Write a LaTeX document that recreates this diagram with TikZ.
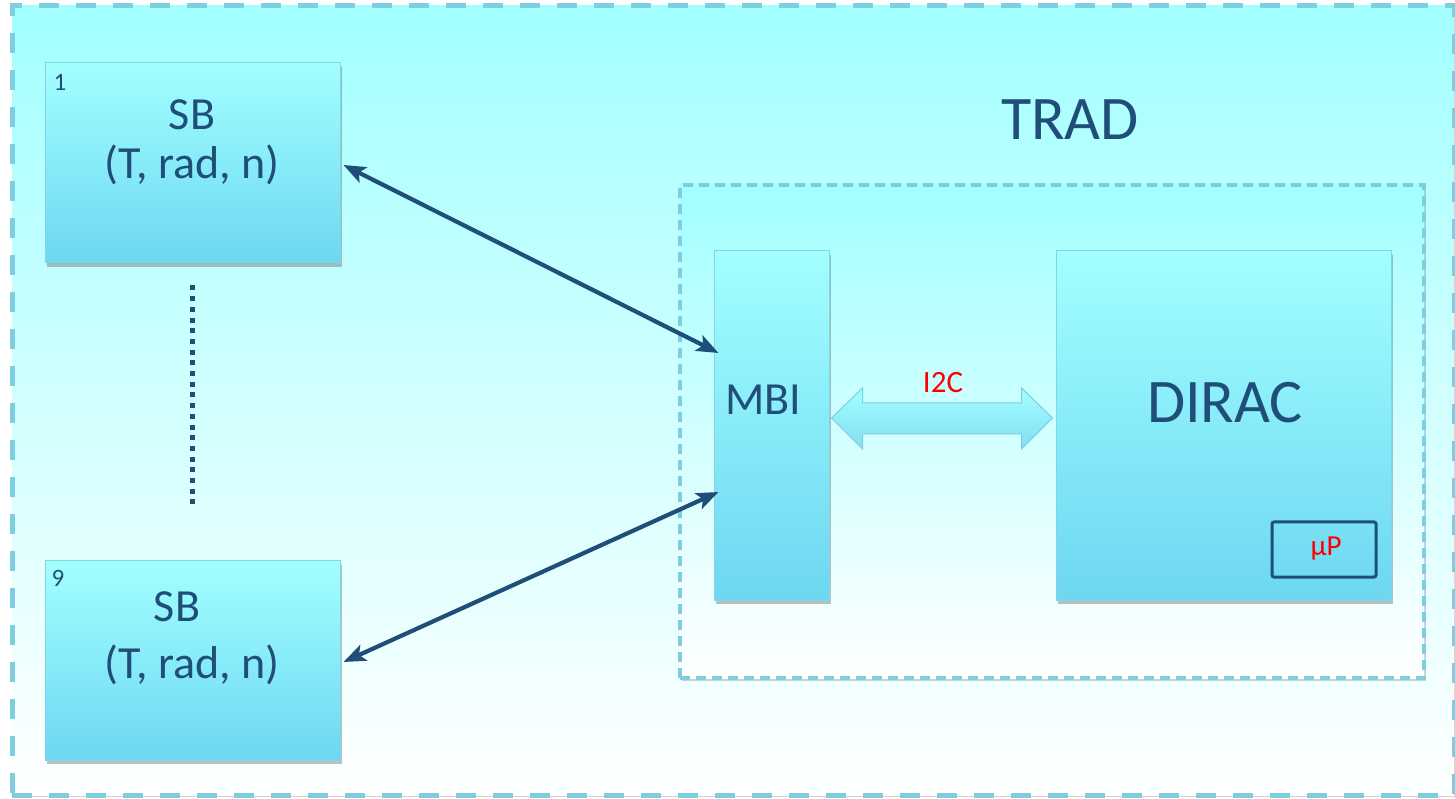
\documentclass[tikz,border=0pt]{standalone}
\usepackage{fontspec}
\setmainfont{Carlito}
\usetikzlibrary{arrows.meta,shadows,calc}
\definecolor{aqua}{HTML}{A2FFFF}
\definecolor{boxbot}{HTML}{6DD7F1}
\definecolor{boxedge}{HTML}{86D3E6}
\definecolor{dashc}{HTML}{7ECDE0}
\definecolor{navy}{HTML}{1F4E79}
\definecolor{redtxt}{HTML}{FF0000}
\begin{document}
\begin{tikzpicture}[x=1pt,y=1pt,
  blk/.style={draw=boxedge, line width=1pt, top color=aqua, bottom color=boxbot,
    drop shadow={shadow xshift=2pt,shadow yshift=-4pt,opacity=0.35,fill=black!70},
    inner sep=0pt},
  frame/.style={draw=dashc, top color=aqua, bottom color=white, inner sep=0pt},
  lbl/.style={text=navy, inner sep=0pt},
  big/.style={lbl, font=\fontsize{46}{50}\selectfont},
  huge/.style={lbl, font=\fontsize{62}{66}\selectfont},
  num/.style={lbl, font=\fontsize{25}{27}\selectfont},
  redlbl/.style={text=redtxt, inner sep=0pt, font=\fontsize{31}{34}\selectfont},
  link/.style={navy, line width=4.2pt,
    {Stealth[length=22pt,width=17pt,inset=5pt]}-{Stealth[length=22pt,width=17pt,inset=5pt]}},
  fatarrow/.style={draw=dashc, line width=1pt, top color=aqua, bottom color=boxbot!85!white, line join=miter},
]
\useasboundingbox (0,0) rectangle (1455,798);
\fill[white] (0,0) rectangle (1455,798);

% outer frame
\node[frame, line width=5pt, dash pattern=on 20pt off 17pt,
  drop shadow={shadow xshift=1.5pt,shadow yshift=-2pt,opacity=0.25,fill=black!70},
  minimum width=1442, minimum height=789] (outer) at (733,397.5) {};
\node[huge] (trad) at (1070,678) {TRAD};

% inner frame
\node[frame, line width=3.5pt, dash pattern=on 10pt off 6pt,
  drop shadow={shadow xshift=2pt,shadow yshift=-3pt,opacity=0.25,fill=black!70},
  minimum width=744, minimum height=493] (inner) at (1052,366.5) {};

% SB boxes
\node[blk, minimum width=295, minimum height=200] (sb1) at (192.5,635) {};
\node[num] (n1) at (60,716) {1};
\node[big] (sb1a) at (192,683) {SB};
\node[big] (sb1b) at (192,633) {(T, rad, n)};

\node[blk, minimum width=295, minimum height=199] (sb9) at (192.5,137.5) {};
\node[num] (n9) at (58,220) {9};
\node[big] (sb9a) at (177,191) {SB};
\node[big] (sb9b) at (192,133) {(T, rad, n)};

% dotted line
\draw[navy, line width=5pt, dash pattern=on 5pt off 5.7pt]
  ([yshift=-22pt]sb1.south) -- ([yshift=56pt]sb9.north);

% MBI and DIRAC
\node[blk, minimum width=115, minimum height=349] (mbi) at (771.5,372.5) {};
\node[big] (mbit) at (763,398) {MBI};
\node[blk, minimum width=335, minimum height=349] (dirac) at (1223.5,372.5) {};
\node[huge] (dirt) at (1225,395) {DIRAC};

% microprocessor
\node[draw=navy, line width=3pt, rounded corners=2pt, minimum width=104, minimum height=55,
  inner sep=0pt] (up) at (1324,248.5) {};
\node[redlbl, font=\fontsize{29}{32}\selectfont] (upt) at (1326,249) {µP};

% links
\draw[link] ([xshift=3pt,yshift=-2pt]sb1.east) -- ([xshift=5pt,yshift=72.5pt]mbi.west);
\draw[link] ([xshift=3pt,yshift=-1.5pt]sb9.east) -- ([xshift=5pt,yshift=-66.5pt]mbi.west);

% I2C fat double arrow
\coordinate (i2cL) at ([xshift=2pt,yshift=7.5pt]mbi.east);
\coordinate (i2cR) at ([xshift=-3pt,yshift=7.5pt]dirac.west);
\draw[fatarrow] (i2cL) -- ++(31,30) -- ++(0,-15) -- ($(i2cR)+(-31,15)$) -- ++(0,15)
  -- (i2cR) -- ++(-31,-31) -- ++(0,15) -- ($(i2cL)+(31,-16)$) -- ++(0,-15) -- cycle;
\node[redlbl] (i2c) at (943,415) {I2C};
\end{tikzpicture}
\end{document}
